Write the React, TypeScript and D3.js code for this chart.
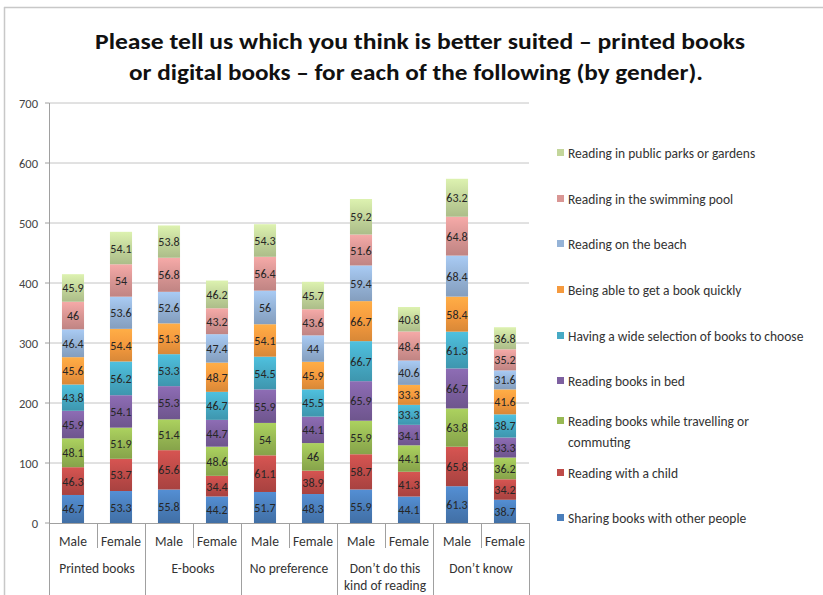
import React from "react";
import * as d3 from "d3";

const categories = ["Male", "Female", "Male", "Female", "Male", "Female", "Male", "Female", "Male", "Female"];
const groups = [["Printed books"], ["E-books"], ["No preference"], ["Don\u2019t do this", "kind of reading"], ["Don\u2019t know"]];
const seriesNames = [
  "Sharing books with other people",
  "Reading with a child",
  "Reading books while travelling or commuting",
  "Reading books in bed",
  "Having a wide selection of books to choose",
  "Being able to get a book quickly",
  "Reading on the beach",
  "Reading in the swimming pool",
  "Reading in public parks or gardens",
];
const sharing = [46.7, 53.3, 55.8, 44.2, 51.7, 48.3, 55.9, 44.1, 61.3, 38.7];
const child = [46.3, 53.7, 65.6, 34.4, 61.1, 38.9, 58.7, 41.3, 65.8, 34.2];
const travelling = [48.1, 51.9, 51.4, 48.6, 54, 46, 55.9, 44.1, 63.8, 36.2];
const bed = [45.9, 54.1, 55.3, 44.7, 55.9, 44.1, 65.9, 34.1, 66.7, 33.3];
const selection = [43.8, 56.2, 53.3, 46.7, 54.5, 45.5, 66.7, 33.3, 61.3, 38.7];
const quickly = [45.6, 54.4, 51.3, 48.7, 54.1, 45.9, 66.7, 33.3, 58.4, 41.6];
const beach = [46.4, 53.6, 52.6, 47.4, 56, 44, 59.4, 40.6, 68.4, 31.6];
const pool = [46, 54, 56.8, 43.2, 56.4, 43.6, 51.6, 48.4, 64.8, 35.2];
const parks = [45.9, 54.1, 53.8, 46.2, 54.3, 45.7, 59.2, 40.8, 63.2, 36.8];
const yTicks = [0, 100, 200, 300, 400, 500, 600, 700];

const seriesValues = [sharing, child, travelling, bed, selection, quickly, beach, pool, parks];
const colors = ["#4a7ebb", "#be4b48", "#98b954", "#7d60a0", "#46aac5", "#f59a3e", "#95b3d7", "#d99694", "#c3d69b"];

const legendItems = [
  { i: 8, lines: ["Reading in public parks or gardens"] },
  { i: 7, lines: ["Reading in the swimming pool"] },
  { i: 6, lines: ["Reading on the beach"] },
  { i: 5, lines: ["Being able to get a book quickly"] },
  { i: 4, lines: ["Having a wide selection of books to choose"] },
  { i: 3, lines: ["Reading books in bed"] },
  { i: 2, lines: ["Reading books while travelling or", "commuting"] },
  { i: 1, lines: ["Reading with a child"] },
  { i: 0, lines: ["Sharing books with other people"] },
];
const legendY = [154, 200, 245, 291, 337, 382, 422, 474, 519];

const FONT = "Carlito, Lato, 'Open Sans', sans-serif";

export default function App() {
  const W = 823, H = 595;
  const x0 = 49, x1 = 529;
  const y = d3.scaleLinear().domain([0, 700]).range([523, 103]);
  const x = d3.scaleBand<number>().domain(d3.range(10)).range([x0, x1]).paddingInner(0.54).paddingOuter(0.27);
  const rows = d3.range(10).map((j) => {
    const o: any = { j };
    seriesValues.forEach((s, k) => (o["s" + k] = s[j]));
    return o;
  });
  const stack = d3.stack<any>().keys(seriesValues.map((_, k) => "s" + k));
  const stacked = stack(rows);
  const step = (x1 - x0) / 10;

  return (
    <svg width={W} height={H} style={{ position: "absolute", left: 0, top: 0, background: "#fff" }}>
      <defs>
        {colors.map((c, k) => {
          const col = d3.color(c)!;
          return (
            <linearGradient key={k} id={"g" + k} x1="0" y1="0" x2="0" y2="1">
              <stop offset="0" stopColor={col.brighter(0.35).formatHex()} />
              <stop offset="0.5" stopColor={c} />
              <stop offset="1" stopColor={col.darker(0.35).formatHex()} />
            </linearGradient>
          );
        })}
      </defs>
      <rect x={0} y={0} width={W} height={H} fill="#fff" />
      {/* frame */}
      <line x1={4.5} y1={7} x2={4.5} y2={H} stroke="#c8c8c8" strokeWidth={1.5} />
      <line x1={4} y1={7.5} x2={W} y2={7.5} stroke="#c8c8c8" strokeWidth={1.5} />

      {/* title */}
      <text x={420} y={49} textAnchor="middle" fontFamily={FONT} fontWeight="bold" fontSize={22} fill="#111"
        textLength={650} lengthAdjust="spacingAndGlyphs">
        Please tell us which you think is better suited – printed books
      </text>
      <text x={416} y={80} textAnchor="middle" fontFamily={FONT} fontWeight="bold" fontSize={22} fill="#111"
        textLength={574} lengthAdjust="spacingAndGlyphs">
        or digital books – for each of the following (by gender).
      </text>

      {/* gridlines */}
      {yTicks.map((t) => (
        <g key={t}>
          {t > 0 && <line x1={x0} x2={x1} y1={y(t)} y2={y(t)} stroke="#c4c4c4" strokeWidth={1} />}
          <line x1={x0 - 4} x2={x0} y1={y(t)} y2={y(t)} stroke="#a0a0a0" />
          <text x={38} y={y(t) + 4.5} textAnchor="end" fontFamily={FONT} fontSize={12.5} fill="#444">{t}</text>
        </g>
      ))}

      {/* bars */}
      {stacked.map((layer, k) => (
        <g key={k}>
          {layer.map((d, j) => (
            <rect key={j} x={x(j)} width={x.bandwidth()} y={y(d[1])} height={y(d[0]) - y(d[1])} fill={`url(#g${k})`} />
          ))}
        </g>
      ))}
      {stacked.map((layer, k) => (
        <g key={"t" + k}>
          {layer.map((d, j) => (
            <text key={j} x={(x(j) as number) + x.bandwidth() / 2} y={(y(d[0]) + y(d[1])) / 2 + 4.5}
              textAnchor="middle" fontFamily={FONT} fontSize={12} fill="#262626">
              {seriesValues[k][j]}
            </text>
          ))}
        </g>
      ))}

      {/* axes */}
      <line x1={x0 + 0.5} x2={x0 + 0.5} y1={103} y2={523} stroke="#a0a0a0" />
      <line x1={x0} x2={x1} y1={523.5} y2={523.5} stroke="#a0a0a0" />
      {d3.range(11).map((i) => (
        <line key={i} x1={x0 + i * step + 0.5} x2={x0 + i * step + 0.5} y1={523}
          y2={i % 2 === 0 ? H : 548} stroke="#a0a0a0" />
      ))}
      {categories.map((c, j) => (
        <text key={j} x={(x(j) as number) + x.bandwidth() / 2} y={546} textAnchor="middle" fontFamily={FONT} fontSize={13.5} fill="#333">{c}</text>
      ))}
      {groups.map((g, gi) => (
        <text key={gi} x={x0 + step * (2 * gi + 1)} y={573} textAnchor="middle" fontFamily={FONT} fontSize={13.5} fill="#333">
          {g.map((ln, li) => (
            <tspan key={li} x={x0 + step * (2 * gi + 1)} dy={li === 0 ? 0 : 17}>{ln}</tspan>
          ))}
        </text>
      ))}

      {/* legend */}
      {legendItems.map((it, n) => (
        <g key={n}>
          <rect x={557} y={legendY[n] - 5} width={7} height={7} fill={colors[it.i]} />
          <text x={568} y={legendY[n] + 4} fontFamily={FONT} fontSize={13.5} fill="#333">
            {it.lines.map((ln, li) => (
              <tspan key={li} x={568} dy={li === 0 ? 0 : 21}>{ln}</tspan>
            ))}
          </text>
        </g>
      ))}
    </svg>
  );
}
